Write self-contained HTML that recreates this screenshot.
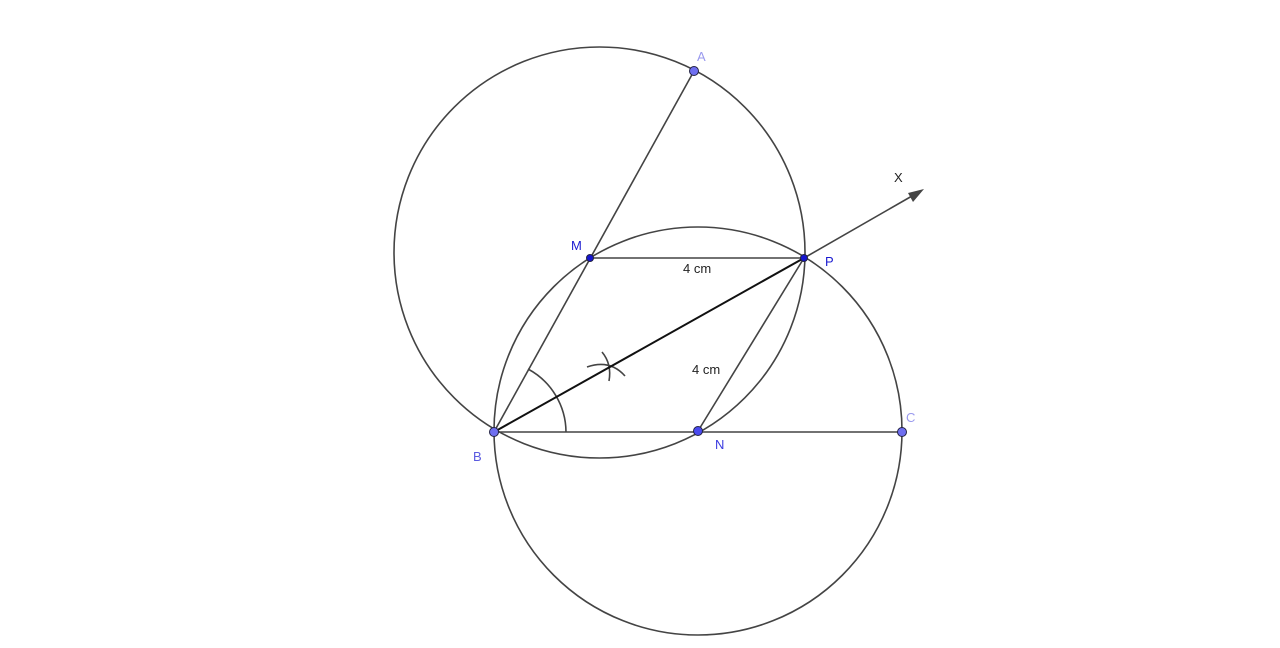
<!DOCTYPE html>
<html><head><meta charset="utf-8"><style>
html,body{margin:0;padding:0;background:#fff;}
svg{display:block;}
text{font-family:"Liberation Sans",sans-serif;font-size:13px;}
</style></head><body>
<svg width="1280" height="648" viewBox="0 0 1280 648" xmlns="http://www.w3.org/2000/svg">
<g fill="none" stroke="#444" stroke-width="1.6">
<circle cx="599.5" cy="252.5" r="205.5"/>
<circle cx="698" cy="431" r="204"/>
<line x1="494" y1="432" x2="694" y2="71"/>
<line x1="590" y1="258" x2="804" y2="258"/>
<line x1="494" y1="432" x2="902" y2="432"/>
<line x1="698" y1="431" x2="804" y2="258"/>
<line x1="804" y1="258" x2="912" y2="196"/>
<path d="M566 432 A72 72 0 0 0 528 369"/>
<path d="M587 367 Q610 359 625 376"/>
<path d="M602 352 Q612 364 609 381"/>
</g>
<line x1="494" y1="432" x2="804" y2="258" stroke="#111" stroke-width="2"/>
<polygon points="924,189 908,193 913,202" fill="#444"/>
<g stroke="#224" stroke-width="1">
<circle cx="694" cy="71" r="4.5" fill="#6f6ff0"/>
<circle cx="494" cy="432" r="4.5" fill="#6f6ff0"/>
<circle cx="698" cy="431" r="4.5" fill="#4a4af0"/>
<circle cx="902" cy="432" r="4.5" fill="#6f6ff0"/>
<circle cx="590" cy="258" r="3.5" fill="#1515d0"/>
<circle cx="804" cy="258" r="3.5" fill="#1515d0"/>
</g>
<text x="697" y="61" fill="#9a9aee">A</text>
<text x="906" y="422" fill="#9a9aee">C</text>
<text x="473" y="461" fill="#5a5ae0">B</text>
<text x="715" y="449" fill="#3a3ae0">N</text>
<text x="571" y="250" fill="#1a1ad0">M</text>
<text x="825" y="266" fill="#1a1ad0">P</text>
<text x="894" y="182" fill="#222">X</text>
<text x="683" y="273" fill="#222">4 cm</text>
<text x="692" y="374" fill="#222">4 cm</text>
</svg>
</body></html>
